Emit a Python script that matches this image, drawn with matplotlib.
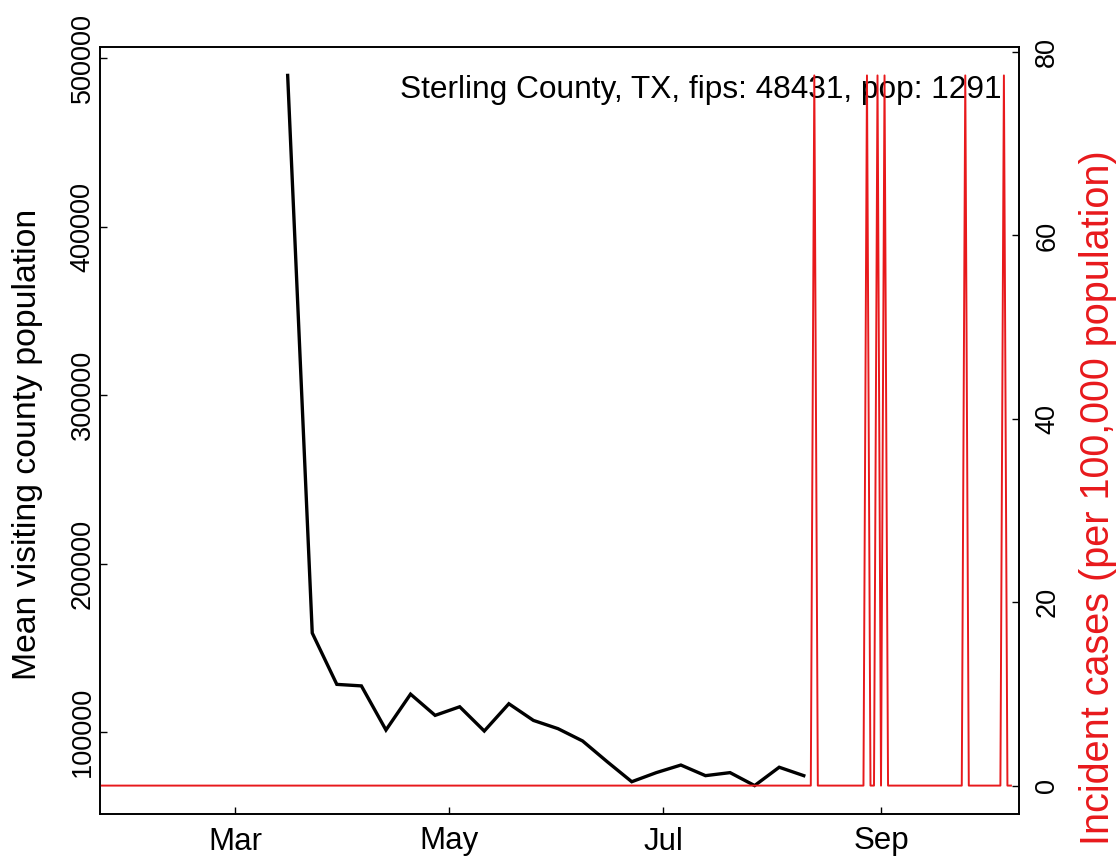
import matplotlib
matplotlib.use("Agg")
import matplotlib.pyplot as plt
import matplotlib.dates as mdates
import numpy as np
import pandas as pd

plt.rcParams['font.family'] = ['Liberation Sans', 'DejaVu Sans']

# ---- data ----
visit_dates = ["2020-03-16", "2020-03-23", "2020-03-30", "2020-04-06", "2020-04-13",
               "2020-04-20", "2020-04-27", "2020-05-04", "2020-05-11", "2020-05-18",
               "2020-05-25", "2020-06-01", "2020-06-08", "2020-06-15", "2020-06-22",
               "2020-06-29", "2020-07-06", "2020-07-13", "2020-07-20", "2020-07-27",
               "2020-08-03", "2020-08-10"]
visit_values = [489900, 158800, 128300, 127400, 101200, 122500, 109900, 115000,
                100600, 116800, 106900, 102000, 94700, 82400, 70500, 75900,
                80400, 74100, 75900, 68200, 79100, 74100]

case_start = "2020-01-22"
case_end = "2020-10-08"
spike_dates = ["2020-08-13", "2020-08-28", "2020-08-31", "2020-09-02",
               "2020-09-25", "2020-10-06"]
spike_values = [77.46, 77.46, 77.46, 77.46, 77.46, 77.46]

month_ticks = ["2020-03-01", "2020-05-01", "2020-07-01", "2020-09-01"]
month_labels = ["Mar", "May", "Jul", "Sep"]
left_ticks = [100000, 200000, 300000, 400000, 500000]
right_ticks = [0, 20, 40, 60, 80]
title_text = "Sterling County, TX, fips: 48431, pop: 1291"

# ---- build series ----
case_idx = pd.date_range(case_start, case_end, freq="D")
cases = pd.Series(0.0, index=case_idx)
for d, v in zip(spike_dates, spike_values):
    cases[pd.Timestamp(d)] = v

vd = mdates.date2num(pd.to_datetime(visit_dates))
cd = mdates.date2num(cases.index)

W, H = 1118, 859
fig = plt.figure(figsize=(W / 100, H / 100), dpi=100)
ax = fig.add_axes([100/W, 45/H, 919/W, 767/H])

ax.plot(vd, visit_values, color="black", lw=2.4, solid_joinstyle="miter")
mar1 = mdates.date2num(pd.Timestamp("2020-03-01"))
ax.set_xlim(mar1 - 38.45, mar1 + 223.3)
ax.set_ylim(51332, 506768)
ax.set_xticks(mdates.date2num(pd.to_datetime(month_ticks)))
ax.set_xticklabels(month_labels)
ax.set_yticks(left_ticks)
ax.set_yticklabels([str(t) for t in left_ticks], rotation=90, va="center")
ax.tick_params(axis="x", direction="in", length=5, width=1, pad=9, labelsize=22.5)
ax.tick_params(axis="y", direction="in", length=5, width=1, pad=3, labelsize=19.5)
for s in ax.spines.values():
    s.set_linewidth(1.2)

ax.text(0.9815, 0.9440, title_text, transform=ax.transAxes, ha="right",
        va="center", fontsize=22.8)

ax2 = ax.twinx()
ax2.plot(cd, cases.values, color="#e8191c", lw=1.4)
ax2.set_ylim(-3.098, 80.56)
ax2.set_yticks(right_ticks)
ax2.set_yticklabels([str(t) for t in right_ticks], rotation=90, va="center")
ax2.tick_params(axis="y", direction="in", length=5, width=1, pad=11, labelsize=19.5)
for s in ax2.spines.values():
    s.set_linewidth(1.2)

fig.text(36/W, 1 - 444/H, "Mean visiting county population", rotation=90,
         rotation_mode="anchor", ha="center", va="baseline", fontsize=24.3)
fig.text(1109/W, 1 - 498/H, "Incident cases (per 100,000 population)",
         rotation=90, rotation_mode="anchor", ha="center", va="baseline",
         fontsize=28.5, color="#e8191c")

fig.savefig("out.png", dpi=100)
